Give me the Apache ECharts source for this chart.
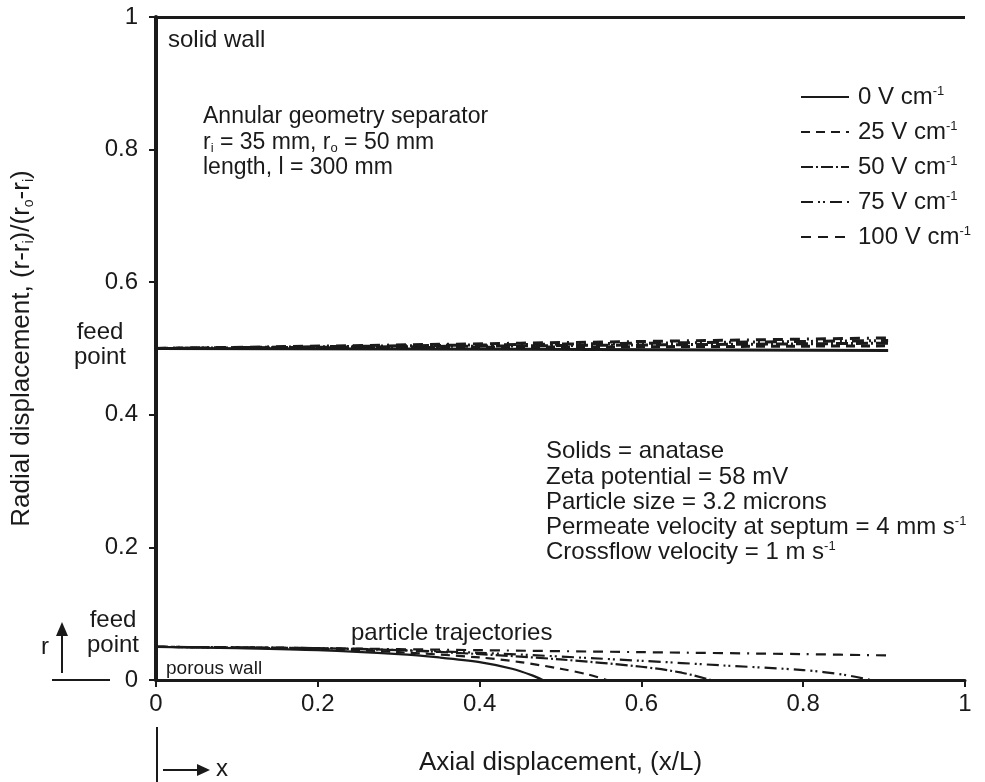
<!DOCTYPE html>
<html>
<head>
<meta charset="utf-8">
<script src="https://cdn.jsdelivr.net/npm/echarts@6/dist/echarts.min.js"></script>
<style>html,body{margin:0;padding:0;background:#fff}#c{width:985px;height:782px}</style>
</head>
<body>
<div id="c"></div>
<script>
// ---- data ----
const seriesNames = ['0 V cm', '25 V cm', '50 V cm', '75 V cm', '100 V cm'];
const xTicks = [0, 0.2, 0.4, 0.6, 0.8, 1];
const yTicks = [0, 0.2, 0.4, 0.6, 0.8, 1];

// lower trajectories (feed point at r = 0.05)
const low0x = [0, 0.1, 0.2, 0.3, 0.35, 0.4, 0.44, 0.465, 0.478];
const low0y = [0.05, 0.048, 0.045, 0.039, 0.034, 0.027, 0.017, 0.007, 0];
const low25x = [0, 0.2, 0.3, 0.4, 0.45, 0.5, 0.535, 0.557];
const low25y = [0.05, 0.047, 0.042, 0.034, 0.027, 0.017, 0.008, 0];
const low50x = [0, 0.2, 0.3, 0.4, 0.5, 0.6, 0.65, 0.686];
const low50y = [0.05, 0.048, 0.045, 0.039, 0.031, 0.02, 0.011, 0];
const low75x = [0, 0.2, 0.4, 0.6, 0.7, 0.8, 0.85, 0.883];
const low75y = [0.05, 0.048, 0.041, 0.029, 0.022, 0.015, 0.008, 0];
const low100x = [0, 0.2, 0.4, 0.6, 0.8, 0.905];
const low100y = [0.05, 0.048, 0.045, 0.042, 0.039, 0.037];

// upper trajectories (feed point at r = 0.5)
const upX = [0, 0.45, 0.905];
const up0y = [0.5, 0.499, 0.497];
const up25y = [0.5, 0.502, 0.504];
const up50y = [0.5, 0.504, 0.508];
const up75y = [0.5, 0.506, 0.512];
const up100y = [0.5, 0.508, 0.516];

// ---- styles ----
const FONT = '"Liberation Sans", Arial, Helvetica, sans-serif';
const INK = '#1a1a1a';
const dashes = ['solid', [9, 6], [12, 3, 2, 3], [12, 5, 2, 3, 2, 5], [10, 7, 10, 7, 10, 7, 2, 7]];
const lowX = [low0x, low25x, low50x, low75x, low100x];
const lowY = [low0y, low25y, low50y, low75y, low100y];
const upY = [up0y, up25y, up50y, up75y, up100y];
const zip = (xs, ys) => xs.map((x, i) => [x, ys[i]]);

const series = [];
seriesNames.forEach((n, i) => {
  series.push({
    name: n, type: 'line', data: zip(lowX[i], lowY[i]), symbol: 'none', showSymbol: false, smooth: 0.3,
    lineStyle: { color: INK, width: 2.2, type: dashes[i] }, itemStyle: { color: INK },
    z: 3, silent: true
  });
});
seriesNames.forEach((n, i) => {
  series.push({
    name: n, type: 'line', data: zip(upX, upY[i]), symbol: 'none', showSymbol: false,
    lineStyle: { color: INK, width: 3, type: dashes[i] }, itemStyle: { color: INK },
    z: 3, silent: true
  });
});
// solid wall line at top
series[0].markLine = {
  silent: true, symbol: ['none', 'none'], label: { show: false },
  lineStyle: { color: INK, width: 3, type: 'solid' },
  data: [{ yAxis: 1 }]
};

const supRich = {
  sup: { fontSize: 13, fontFamily: FONT, color: INK, verticalAlign: 'top', lineHeight: 10 },
  sub: { fontSize: 14, fontFamily: FONT, color: INK, verticalAlign: 'bottom', lineHeight: 10 }
};

function txt(x, y, text, size, lh, align) {
  return {
    type: 'text', x: x, y: y, silent: true, z: 10,
    style: {
      text: text, fontSize: size, fontFamily: FONT, fill: INK,
      align: align || 'left', verticalAlign: 'top', lineHeight: lh,
      rich: {
        sup: { fontSize: 13, fontFamily: FONT, fill: INK, verticalAlign: 'top', lineHeight: 10 },
        sub: { fontSize: 13, fontFamily: FONT, fill: INK, verticalAlign: 'bottom', lineHeight: 10 }
      }
    }
  };
}

const chart = echarts.init(document.getElementById('c'), null, { renderer: 'canvas' });
chart.setOption({
  animation: false,
  backgroundColor: '#fff',
  textStyle: { fontFamily: FONT, color: INK },
  grid: { left: 156, right: 20, top: 17, bottom: 102 },
  xAxis: {
    type: 'value', min: 0, max: 1, interval: 0.2,
    name: 'Axial displacement, (x/L)', nameLocation: 'middle', nameGap: 70,
    nameTextStyle: { fontSize: 26, fontFamily: FONT, color: INK },
    axisLine: { show: true, lineStyle: { color: INK, width: 3 } },
    axisTick: { show: true, length: 7, lineStyle: { color: INK, width: 2 } },
    axisLabel: { fontSize: 24, fontFamily: FONT, color: INK, margin: 12,
      formatter: v => String(xTicks.find(t => Math.abs(t - v) < 1e-9) ?? v) },
    splitLine: { show: false }
  },
  yAxis: {
    type: 'value', min: 0, max: 1, interval: 0.2,
    name: 'Radial displacement, (r-r{sub|i})/(r{sub|o}-r{sub|i})', nameLocation: 'middle', nameGap: 120,
    nameTextStyle: { fontSize: 26, fontFamily: FONT, color: INK, lineHeight: 28, rich: supRich },
    axisLine: { show: true, lineStyle: { color: INK, width: 4 } },
    axisTick: { show: true, length: 7, lineStyle: { color: INK, width: 2 } },
    axisLabel: { fontSize: 24, fontFamily: FONT, color: INK, margin: 18,
      formatter: v => String(yTicks.find(t => Math.abs(t - v) < 1e-9) ?? v) },
    splitLine: { show: false }
  },
  legend: {
    data: seriesNames, orient: 'vertical', left: 795, top: 80,
    itemWidth: 48, itemHeight: 24, itemGap: 11, selectedMode: false,
    itemStyle: { opacity: 0 },
    formatter: n => n + '{sup|-1}',
    textStyle: { fontSize: 24, fontFamily: FONT, color: INK, lineHeight: 24, padding: [0, 0, 0, 4], rich: supRich }
  },
  graphic: [
    txt(168, 28, 'solid wall', 24, 24),
    txt(203, 104, 'Annular geometry separator\nr{sub|i} = 35 mm, r{sub|o} = 50 mm\nlength, l = 300 mm', 23, 25.5),
    txt(546, 439, 'Solids = anatase\nZeta potential = 58 mV\nParticle size = 3.2 microns\nPermeate velocity at septum = 4 mm s{sup|-1}\nCrossflow velocity = 1 m s{sup|-1}', 24, 25.3),
    txt(351, 621, 'particle trajectories', 24, 24),
    txt(166, 659, 'porous wall', 19, 19),
    txt(100, 320, 'feed\npoint', 24, 25, 'center'),
    txt(113, 608, 'feed\npoint', 24, 25, 'center'),
    txt(45, 635, 'r', 24, 24, 'center'),
    txt(222, 757, 'x', 24, 24, 'center'),
    { type: 'line', silent: true, shape: { x1: 62, y1: 673, x2: 62, y2: 632 }, style: { stroke: INK, lineWidth: 2 } },
    { type: 'polygon', silent: true, shape: { points: [[62, 622], [56, 636], [68, 636]] }, style: { fill: INK } },
    { type: 'line', silent: true, shape: { x1: 52, y1: 680, x2: 110, y2: 680 }, style: { stroke: INK, lineWidth: 2 } },
    { type: 'line', silent: true, shape: { x1: 157, y1: 727, x2: 157, y2: 782 }, style: { stroke: INK, lineWidth: 2 } },
    { type: 'line', silent: true, shape: { x1: 163, y1: 770, x2: 200, y2: 770 }, style: { stroke: INK, lineWidth: 2 } },
    { type: 'polygon', silent: true, shape: { points: [[210, 770], [197, 764], [197, 776]] }, style: { fill: INK } }
  ],
  series: series
});
</script>
</body>
</html>
